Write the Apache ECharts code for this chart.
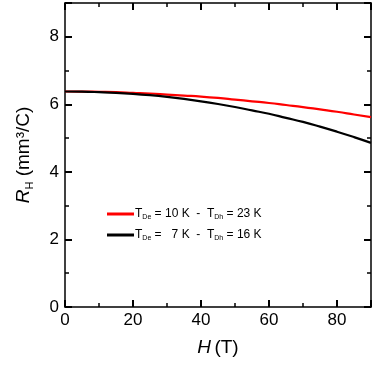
<!DOCTYPE html>
<html><head><meta charset="utf-8">
<script src="https://cdn.jsdelivr.net/npm/echarts@6/dist/echarts.min.js"></script>
<style>html,body{margin:0;padding:0;background:#fff}#c{width:374px;height:370px}</style>
</head><body><div id="c"></div>
<script>
const fieldH = [0,5,10,15,20,25,30,35,40,45,50,55,60,65,70,75,80,85,90];
const redRH = [6.38,6.378,6.37,6.36,6.34,6.32,6.29,6.26,6.23,6.19,6.14,6.09,6.04,5.98,5.92,5.85,5.78,5.70,5.62];
const blackRH = [6.38,6.375,6.36,6.34,6.31,6.27,6.22,6.16,6.09,6.01,5.92,5.82,5.72,5.60,5.48,5.34,5.19,5.03,4.86];
const legendRed = ['T','De',' = 10 K  -  T','Dh',' = 23 K'];
const legendBlack = ['T','De',' =   7 K  -  T','Dh',' = 16 K'];
const xTicks = [0,20,40,60,80];
const yTicks = [0,2,4,6,8];

const font = 'Liberation Sans, Arial, sans-serif';
const chart = echarts.init(document.getElementById('c'));
function pairs(xs, ys){ return xs.map((x,i)=>[x, ys[i]]); }
function legendText(p){ return '{n|'+p[0]+'}{s|'+p[1]+'}{n|'+p[2]+'}{s|'+p[3]+'}{n|'+p[4]+'}'; }
const tickStyle = {show:true, inside:true, length:7, lineStyle:{color:'#000', width:2}};
const minorStyle = {show:true, splitNumber:2, length:4, lineStyle:{color:'#000', width:1.5}};
const axisLine = {show:true, onZero:false, lineStyle:{color:'#000', width:1.5}};
chart.setOption({
  animation:false,
  grid:{left:65, right:2, top:3, bottom:63},
  legend:{
    orient:'vertical', left:107, top:208, padding:0, itemWidth:27, itemHeight:3, itemGap:8, icon:'rect',
    data:[{name:'red', icon:'rect'},{name:'black', icon:'rect'}],
    formatter:function(name){ return legendText(name==='red'?legendRed:legendBlack); },
    textStyle:{fontFamily:font, padding:[0,0,0,-4], rich:{
      n:{fontSize:12, fontFamily:font, color:'#000', lineHeight:14},
      s:{fontSize:7, fontFamily:font, color:'#000', verticalAlign:'bottom', lineHeight:14, padding:[6,0,0,0]}
    }}
  },
  xAxis:[{
    type:'value', min:0, max:90, interval:20, position:'bottom',
    axisLine:axisLine, axisTick:tickStyle, minorTick:minorStyle, splitLine:{show:false},
    axisLabel:{fontSize:17, color:'#000', fontFamily:font, margin:5,
      formatter:function(v){ return xTicks.indexOf(v)>=0 ? String(v) : ''; }},
    name:'{i|H} {n|(T)}', nameLocation:'middle', nameGap:31,
    nameTextStyle:{rich:{i:{fontSize:19, fontStyle:'italic', fontFamily:font, color:'#000'}, n:{fontSize:19, fontFamily:font, color:'#000'}}}
  },{
    type:'value', min:0, max:90, interval:20, position:'top',
    axisLine:axisLine, axisTick:tickStyle, minorTick:minorStyle, splitLine:{show:false}, axisLabel:{show:false}
  }],
  yAxis:[{
    type:'value', min:0, max:9, interval:2, position:'left',
    axisLine:axisLine, axisTick:tickStyle, minorTick:minorStyle, splitLine:{show:false},
    axisLabel:{fontSize:17, color:'#000', fontFamily:font, margin:6,
      formatter:function(v){ return yTicks.indexOf(v)>=0 ? String(v) : ''; }},
    name:'{i|R}{s|H}{n| (mm³/C)}', nameLocation:'middle', nameGap:30, nameRotate:90,
    nameTextStyle:{rich:{
      i:{fontSize:19, fontStyle:'italic', fontFamily:font, color:'#000', lineHeight:22},
      s:{fontSize:11, fontFamily:font, color:'#000', verticalAlign:'bottom', lineHeight:22, padding:[8,0,0,0]},
      n:{fontSize:19, fontFamily:font, color:'#000', lineHeight:22}}}
  },{
    type:'value', min:0, max:9, interval:2, position:'right',
    axisLine:axisLine, axisTick:tickStyle, minorTick:minorStyle, splitLine:{show:false}, axisLabel:{show:false}
  }],
  series:[
    {name:'red', type:'line', data:pairs(fieldH, redRH), smooth:true, symbol:'none', showSymbol:false,
      lineStyle:{color:'#ff0000', width:2.2}, itemStyle:{color:'#ff0000'}},
    {name:'black', type:'line', data:pairs(fieldH, blackRH), smooth:true, symbol:'none', showSymbol:false,
      lineStyle:{color:'#000', width:2.2}, itemStyle:{color:'#000'}}
  ]
});
</script></body></html>
